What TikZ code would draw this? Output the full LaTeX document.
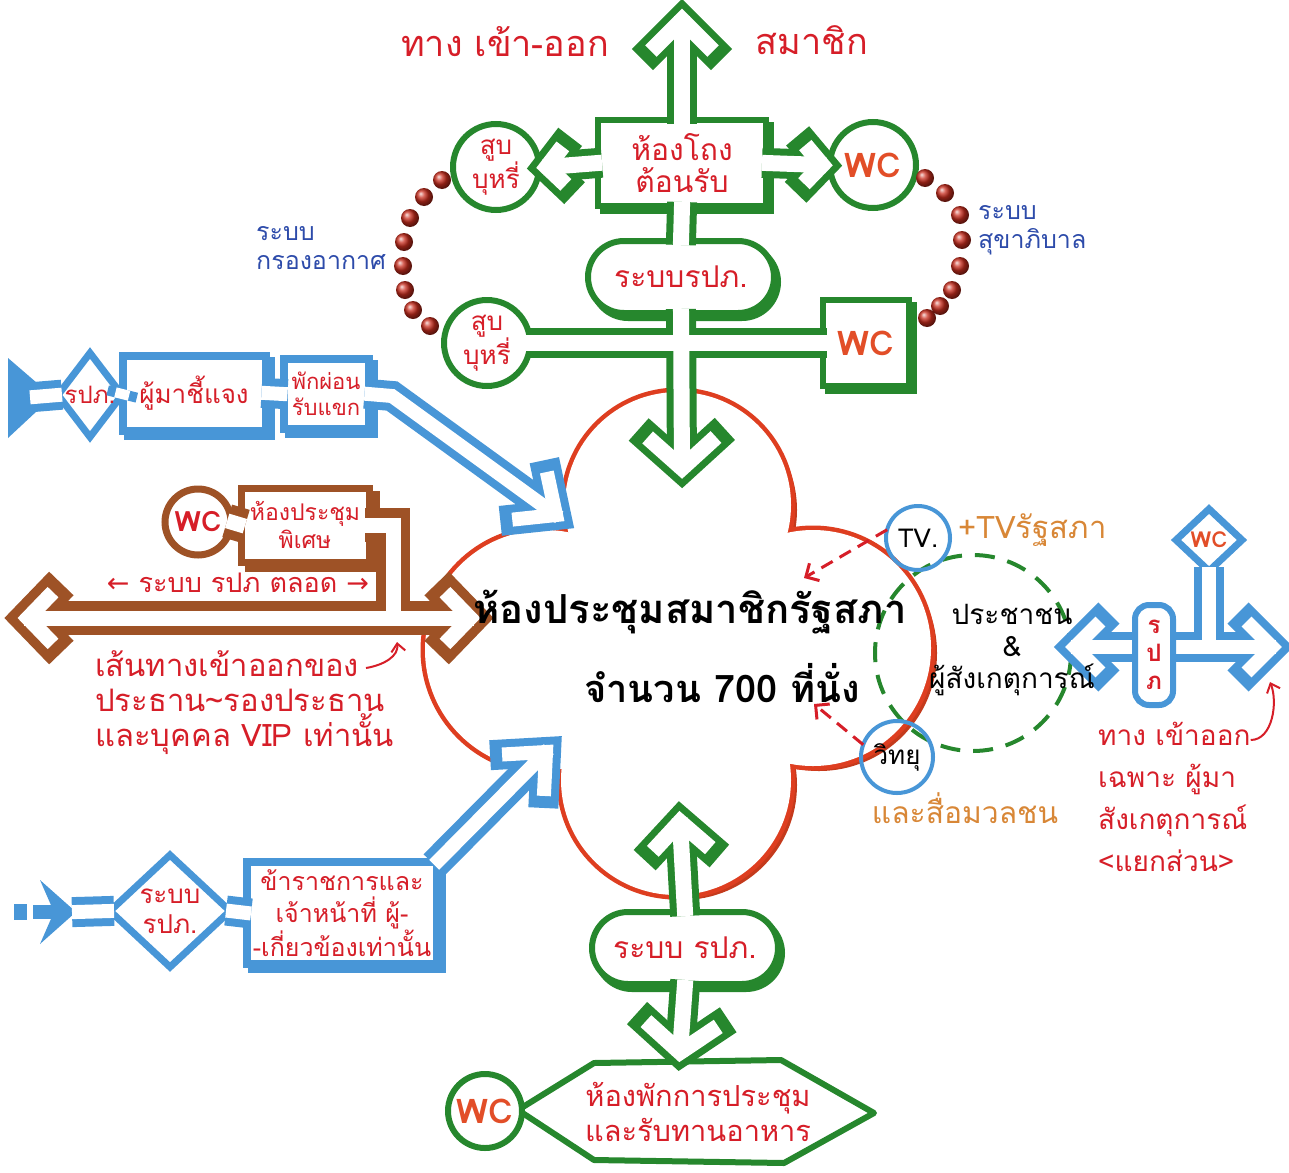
\documentclass[tikz,border=0pt]{standalone}
\usepackage{fontspec}
\setmainfont[Script=Thai]{Loma}
\newfontfamily\arrowfont{DejaVu Sans}
\usetikzlibrary{positioning,calc,shapes.geometric,shapes.misc,shadows,arrows.meta}
\newcommand{\fsz}[2]{\fontsize{#1}{#2}\selectfont}
\definecolor{ggreen}{RGB}{38,135,45}
\definecolor{bblue}{RGB}{72,150,215}
\definecolor{nbrown}{RGB}{158,82,38}
\definecolor{tred}{RGB}{214,30,40}
\definecolor{wcred}{RGB}{226,78,40}
\definecolor{torange}{RGB}{216,135,55}
\definecolor{tblue}{RGB}{45,75,170}
\definecolor{cloudred}{RGB}{222,62,32}
\definecolor{cloudshade}{RGB}{196,58,28}
\definecolor{dotred}{RGB}{200,45,30}
\tikzset{
  pipe/.style 2 args={line width=#1, draw=#2, line cap=butt, line join=miter, shorten <=-4pt, shorten >=-4pt},
  gbox/.style={rectangle, draw=ggreen, line width=6pt, fill=white, outer sep=0pt, inner sep=2pt, text=tred, align=center, font=\fsz{30}{32},
    general shadow={draw=ggreen, fill=ggreen, line width=6pt, shadow xshift=5pt, shadow yshift=-5pt}},
  gcirc/.style={circle, draw=ggreen, line width=6pt, fill=white, outer sep=0pt, inner sep=0pt, minimum size=86pt, text=tred, align=center, font=\fsz{26}{27}},
  gpill/.style={rounded rectangle, draw=ggreen, line width=6pt, fill=white, outer sep=0pt, inner sep=0pt, minimum width=186pt, minimum height=72pt, text=tred, font=\fsz{30}{32},
    general shadow={draw=ggreen, fill=ggreen, line width=6pt, shadow xshift=4pt, shadow yshift=-5pt}},
  bbox/.style={rectangle, draw=bblue, line width=8pt, fill=white, outer sep=0pt, inner sep=2pt, text=tred, align=center, font=\fsz{26}{29},
    general shadow={draw=bblue, fill=bblue, line width=8pt, shadow xshift=5pt, shadow yshift=-5pt}},
  bdiam/.style={diamond, draw=bblue, line width=7pt, fill=white, outer sep=0pt, inner sep=0pt},
  bpost/.style={rectangle, rounded corners=14pt, draw=bblue, line width=6pt, fill=white, outer sep=0pt, inner sep=0pt, text=tred, align=center, font=\fsz{24}{28}\bfseries},
  nbox/.style={rectangle, draw=nbrown, line width=7pt, fill=white, outer sep=0pt, inner sep=2pt, text=tred, align=center, font=\fsz{23}{28},
    general shadow={draw=nbrown, fill=nbrown, line width=7pt, shadow xshift=7pt, shadow yshift=-6pt}},
  ncirc/.style={circle, draw=nbrown, line width=7pt, fill=white, outer sep=0pt, inner sep=0pt, minimum size=66pt, text=tred, font=\fsz{28}{30}\bfseries},
  tcirc/.style={circle, draw=bblue, line width=4pt, outer sep=0pt, inner sep=0pt, minimum size=64pt, font=\fsz{26}{28}},
  wclabel/.style={text=wcred, font=\fsz{34}{36}\bfseries},
  rtext/.style={text=tred, inner sep=0pt, font=\fsz{29}{35}},
  btext/.style={text=tblue, inner sep=0pt, align=left, font=\fsz{25}{29}},
  otext/.style={text=torange, inner sep=0pt, font=\fsz{31}{33}},
  ktext/.style={text=black, inner sep=0pt, align=center},
  rdash/.style={draw=tred, line width=3pt, dash pattern=on 13pt off 8pt, -{Straight Barb[length=10pt, width=20pt]}},
  rnote/.style={draw=tred, line width=2pt, -{Straight Barb[length=8pt, width=14pt]}}
}
\begin{document}
\begin{tikzpicture}[x=1pt, y=-1pt]
  \useasboundingbox (0,0) rectangle (1289,1172);

  % meeting hall: four lobes
  \foreach \cx/\cy/\rad in {678/505/113, 545/650/120, 813/648/118, 676/780/115}
    \fill[cloudshade] (\cx+6,\cy+5) circle (\rad pt);
  \foreach \cx/\cy/\rad in {678/505/113, 545/650/120, 813/648/118, 676/780/115}
    \draw[cloudred, line width=9pt] (\cx,\cy) circle (\rad pt);
  \foreach \cx/\cy/\rad in {678/505/113, 545/650/120, 813/648/118, 676/780/115}
    \fill[white] (\cx,\cy) circle (\rad pt);
  \fill[white] (678,646) circle (70pt);

  \node[draw=ggreen, circle, line width=4pt, dash pattern=on 20pt off 13pt, minimum size=196pt, outer sep=0pt] (public) at (973,653) {};

  % green: member side
  \coordinate (memtip) at (682,20);
  \node[gbox, minimum width=168pt, minimum height=86pt] (recep) at (682,163) {ห้องโถง\\ต้อนรับ};
  \node[gcirc] (smokeA) at (496,167) {สูบ\\บุหรี่};
  \node[gcirc, wclabel] (wcA) at (873,165) {WC};
  \coordinate[right=8pt of smokeA.east] (smokeAin);
  \coordinate[left=8pt of wcA.west] (wcAin);
  \node[gpill] (secA) at (681,277) {ระบบรปภ.};
  \node[gcirc] (smokeB) at (487,343) {สูบ\\บุหรี่};
  \node[gbox, wclabel, minimum size=86pt] (wcB) at (866,343) {WC};
  \coordinate (hallin) at (682,468);
  \coordinate (hallout) at (680,822);
  \node[gpill] (secB) at (685,948) {ระบบ รปภ.};
  \coordinate (dinetip) at (680,1052);
  \node[rtext, align=center] (dining) at (698,1112) {ห้องพักการประชุม\\และรับทานอาหาร};
  \draw[ggreen, line width=6pt, line join=round] (518,1110) -- (594,1063) -- (781,1060) -- (874,1113) -- (784,1163) -- (594,1160) -- cycle;
  \node[gcirc, wclabel, minimum size=74pt] (wcD) at (485,1111) {WC};

  % blue: visitors and staff
  \fill[bblue] (8,358) -- (37,383) -- (37,411) -- (8,438) -- cycle;
  \node[bdiam, minimum width=64pt, minimum height=84pt, label={[rtext, font=\fsz{24}{26}]center:รปภ.}] (secC) at (90,395) {};
  \node[bbox, minimum width=143pt, minimum height=75pt] (visitors) at (194,393) {ผู้มาชี้แจง};
  \node[bbox, minimum width=85pt, minimum height=70pt, font=\fsz{22}{26}] (lounge) at (326,394) {พักผ่อน\\รับแขก};
  \coordinate (tailA) at (34,397);
  \coordinate (bendA) at (392,396);
  \coordinate (hallA) at (556,515);
  \fill[bblue] (14,904) rectangle (27,920);
  \fill[bblue] (33,905) rectangle (56,919);
  \coordinate (tailB) at (76,912);
  \fill[bblue] (40,880) -- (tailB) -- (40,944) -- (54,912) -- cycle;
  \node[bdiam, minimum width=120pt, minimum height=112pt, label={[rtext, align=center, font=\fsz{26}{30}]center:ระบบ\\รปภ.}] (secD) at (170,911) {};
  \node[bbox, minimum width=190pt, minimum height=102pt, font=\fsz{25}{32}] (staff) at (342,913) {ข้าราชการและ\\เจ้าหน้าที่ ผู้-\\-เกี่ยวข้องเท่านั้น};
  \coordinate (hallB) at (546,752);
  \node[bdiam, minimum width=66pt, minimum height=62pt, label={[wclabel, font=\fsz{22}{24}\bfseries]center:WC}] (wcE) at (1209,540) {};
  \coordinate (obsL) at (1075,647);
  \coordinate (obsR) at (1272,647);
  \coordinate (juncE) at (wcE.south |- obsL);

  % brown: chairman route
  \node[ncirc] (wcF) at (198,522) {WC};
  \node[nbox, minimum width=128pt, minimum height=74pt] (special) at (305,525) {ห้องประชุม\\พิเศษ};
  \coordinate (vipL) at (28,618);
  \coordinate (vipR) at (470,618);
  \coordinate (vipJ) at (393,618);

  % media
  \node[tcirc] (tv) at (918,538) {TV.};
  \node[tcirc, minimum size=72pt] (radio) at (897,757) {วิทยุ};
  \coordinate (tvin) at (804,578);
  \coordinate (radin) at (814,704);

  % green pipes, outer colour then white core
  \foreach \w/\col/\cut in {30/ggreen/-4, 16/white/8} {
    \draw[pipe={\w pt}{\col}] (memtip) -- (recep.north);
    \draw[pipe={\w pt}{\col}] (recep.west) -- (smokeAin);
    \draw[pipe={\w pt}{\col}] (recep.east) -- (wcAin);
    \draw[pipe={\w pt}{\col}] (recep.south) -- (secA.north);
    \draw[pipe={\w pt}{\col}] (secA.south) -- (hallin);
    \draw[pipe={\w pt}{\col}] (smokeB.east) -- (wcB.west);
    \draw[pipe={\w pt}{\col}] (hallout) -- (secB.north);
    \draw[pipe={\w pt}{\col}] (secB.south) -- (dinetip);
    \foreach \tip/\base/\len/\ang in {memtip/recep.north/52/45, smokeAin/recep.west/34/48, wcAin/recep.east/34/48, hallin/secA.south/54/48, hallout/secB.north/48/46, dinetip/secB.south/54/52}
      \draw[pipe={\w pt}{\col}, shorten <=\cut pt, shorten >=\cut pt] ($(\tip)!\len pt!\ang:(\base)$) -- (\tip) -- ($(\tip)!\len pt!-\ang:(\base)$);
  }

  % blue pipes
  \foreach \w/\col/\cut in {30/bblue/-4, 14/white/8} {
    \draw[pipe={\w pt}{\col}] (tailA) -- (secC.west);
    \draw[pipe={\w pt}{\col}] (secC.east) -- (visitors.west);
    \draw[pipe={\w pt}{\col}] (visitors.east) -- (lounge.west);
    \draw[pipe={\w pt}{\col}] (lounge.east) -- (bendA) -- (hallA);
    \draw[pipe={\w pt}{\col}] (tailB) -- (secD.west);
    \draw[pipe={\w pt}{\col}] (secD.east) -- (staff.west);
    \draw[pipe={\w pt}{\col}] (staff.north east) -- (hallB);
    \draw[pipe={\w pt}{\col}] (obsL) -- (obsR);
    \draw[pipe={\w pt}{\col}] (wcE.south) -- (juncE);
    \foreach \tip/\base/\len/\ang in {hallA/bendA/52/42, hallB/staff.north east/52/42, obsL/obsR/44/45, obsR/obsL/44/45}
      \draw[pipe={\w pt}{\col}, shorten <=\cut pt, shorten >=\cut pt] ($(\tip)!\len pt!\ang:(\base)$) -- (\tip) -- ($(\tip)!\len pt!-\ang:(\base)$);
  }
  \node[bpost, minimum width=38pt, minimum height=100pt] (secE) at (1154,655) {ร\\ป\\ภ};

  % brown pipes
  \foreach \w/\col/\cut in {34/nbrown/-4, 15/white/8} {
    \draw[pipe={\w pt}{\col}] (vipL) -- (vipR);
    \draw[pipe={\w pt}{\col}] (wcF.east) -- (special.west);
    \draw[pipe={\w pt}{\col}] (special.east) -- (special.east -| vipJ) -- (vipJ);
    \foreach \tip/\base/\len/\ang in {vipL/vipR/44/46, vipR/vipL/44/46}
      \draw[pipe={\w pt}{\col}, shorten <=\cut pt, shorten >=\cut pt] ($(\tip)!\len pt!\ang:(\base)$) -- (\tip) -- ($(\tip)!\len pt!-\ang:(\base)$);
  }

  % filters and sanitation beads
  \foreach \p in {(442,180),(424,197),(410,218),(404,242),(403,266),(405,290),(413,310),(430,326)}
    \shade[ball color=dotred] \p circle (9pt);
  \foreach \p in {(925,178),(945,193),(960,215),(962,240),(960,266),(952,290),(940,306),(927,318)}
    \shade[ball color=dotred] \p circle (9pt);

  % labels
  \node[rtext, font=\fsz{36}{40}] (memlabelA) at (505,42) {ทาง เข้า-ออก};
  \node[rtext, font=\fsz{36}{40}] (memlabelB) at (812,40) {สมาชิก};
  \node[btext, anchor=west] (airsys) at (256,248) {ระบบ\\กรองอากาศ};
  \node[btext, anchor=west] (sansys) at (978,230) {ระบบ\\สุขาภิบาล};
  \node[rtext, font=\fsz{27}{30}] (vipsec) at (238,583) {{\arrowfont ←} ระบบ รปภ ตลอด {\arrowfont →}};
  \node[rtext, align=left, anchor=north west, font=\fsz{31}{35}] (viptext) at (95,650) {เส้นทางเข้าออกของ\\ประธาน\textasciitilde รองประธาน\\และบุคคล VIP เท่านั้น};
  \coordinate (vipfrom) at (366,668);
  \coordinate (vipnote) at (397,642);
  \draw[rnote] (vipfrom) .. controls +(18,-3) and +(2,14) .. (vipnote);
  \node[otext, anchor=west] (tvlabel) at (958,530) {+TVรัฐสภา};
  \node[otext, font=\fsz{30}{32}] (medialabel) at (965,808) {และสื่อมวลชน};
  \draw[rdash] (tv.165) -- (tvin);
  \draw[rdash] (radio.160) -- (radin);
  \node[ktext, font=\fsz{28}{32}] (publictext) at (1012,650) {ประชาชน\\\&\\ผู้สังเกตุการณ์};
  \node[rtext, align=left, anchor=north west, font=\fsz{28}{42}] (obstext) at (1098,722) {ทาง เข้าออก\\เฉพาะ ผู้มา\\สังเกตุการณ์\\<แยกส่วน>};
  \coordinate (obsnote) at (1270,682);
  \draw[rnote] ($(obstext.north east)+(0,18)$) .. controls +(22,0) and +(8,20) .. (obsnote);
  \node[ktext, font=\fsz{40}{44}\bfseries] (hall) at (690,612) {ห้องประชุมสมาชิกรัฐสภา};
  \node[ktext, font=\fsz{38}{42}\bfseries] (seats) at (722,683) {จำนวน 700 ที่นั่ง};
\end{tikzpicture}
\end{document}
